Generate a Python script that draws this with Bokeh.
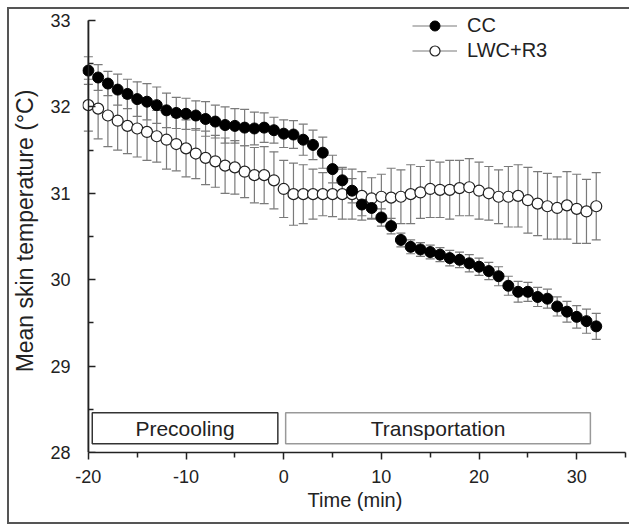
from bokeh.plotting import figure
from bokeh.layouts import column
from bokeh.models import (Range1d, LinearAxis, FixedTicker, Legend, LegendItem,
                          ColumnDataSource)
from bokeh.core.properties import value
from bokeh.embed import file_html
from bokeh.resources import INLINE

# ---------------- data ----------------
time_min = list(range(-20, 33))

cc_mean = [32.42, 32.34, 32.27, 32.20, 32.15, 32.09, 32.06, 32.02, 31.96, 31.93,
           31.92, 31.90, 31.86, 31.83, 31.79, 31.78, 31.76, 31.75, 31.76, 31.73,
           31.69, 31.68, 31.62, 31.56, 31.47, 31.28, 31.15, 31.03, 30.87, 30.83,
           30.72, 30.62, 30.46, 30.38, 30.35, 30.32, 30.29, 30.25, 30.23, 30.19,
           30.15, 30.10, 30.04, 29.93, 29.86, 29.86, 29.80, 29.78, 29.69, 29.63,
           29.57, 29.52, 29.46]
cc_sd = [0.16, 0.15, 0.14, 0.18, 0.17, 0.20, 0.21, 0.21, 0.20, 0.18,
         0.18, 0.17, 0.20, 0.19, 0.21, 0.20, 0.21, 0.19, 0.17, 0.15,
         0.16, 0.16, 0.18, 0.17, 0.18, 0.16, 0.15, 0.14, 0.13, 0.12,
         0.10, 0.09, 0.08, 0.08, 0.08, 0.08, 0.08, 0.09, 0.09, 0.10,
         0.10, 0.10, 0.11, 0.11, 0.12, 0.11, 0.11, 0.11, 0.11, 0.12,
         0.13, 0.14, 0.15]

lwc_mean = [32.02, 31.98, 31.90, 31.84, 31.78, 31.75, 31.71, 31.66, 31.62, 31.57,
            31.52, 31.46, 31.41, 31.37, 31.32, 31.30, 31.25, 31.21, 31.21, 31.15,
            31.05, 30.99, 30.99, 30.99, 30.99, 30.99, 30.99, 30.99, 30.97, 30.94,
            30.96, 30.95, 30.96, 30.99, 31.01, 31.05, 31.04, 31.04, 31.06, 31.07,
            31.03, 31.00, 30.96, 30.96, 30.97, 30.92, 30.88, 30.85, 30.83, 30.86,
            30.82, 30.79, 30.85]
lwc_sd = [0.30, 0.35, 0.36, 0.34, 0.32, 0.33, 0.33, 0.30, 0.34, 0.31,
          0.33, 0.29, 0.31, 0.30, 0.32, 0.31, 0.30, 0.32, 0.33, 0.33,
          0.33, 0.36, 0.34, 0.29, 0.25, 0.26, 0.29, 0.29, 0.28, 0.24,
          0.26, 0.34, 0.31, 0.34, 0.30, 0.33, 0.32, 0.34, 0.32, 0.33,
          0.33, 0.31, 0.31, 0.35, 0.36, 0.38, 0.37, 0.38, 0.36, 0.39,
          0.40, 0.37, 0.39]

series_names = ["CC", "LWC+R3"]
phase_labels = ["Precooling", "Transportation"]
phase_start = [-19.6, 0.2]
phase_end = [-0.6, 31.4]

x_ticks = [-20, -10, 0, 10, 20, 30]
x_minor = [-15, -5, 5, 15, 25, 35]
y_ticks = [28, 29, 30, 31, 32, 33]
y_minor = [28.5, 29.5, 30.5, 31.5, 32.5]

FONT = "Liberation Sans"
INK = "#222222"
W, H = 620, 513

p = figure(width=W, height=H, output_backend="svg", toolbar_location=None,
           x_range=Range1d(-20.6, 35.2), y_range=Range1d(28, 33.127),
           x_axis_location=None, y_axis_location=None,
           min_border_left=73, min_border_right=2, min_border_top=0,
           min_border_bottom=70)
p.outline_line_color = None
for g in p.grid:
    g.visible = False
p.background_fill_color = "white"
p.border_fill_color = "white"


def style_axis(ax):
    ax.axis_line_color = INK
    ax.axis_line_width = 1.5
    ax.major_tick_line_color = INK
    ax.major_tick_line_width = 1.5
    ax.minor_tick_line_color = INK
    ax.minor_tick_line_width = 1.5
    ax.major_tick_out = 7
    ax.major_tick_in = 0
    ax.minor_tick_out = 5
    ax.minor_tick_in = 0
    ax.major_label_text_font = FONT
    ax.major_label_text_font_size = "18px"
    ax.major_label_text_color = INK
    ax.axis_label_text_font = FONT
    ax.axis_label_text_font_size = "20px"
    ax.axis_label_text_font_style = "normal"
    ax.axis_label_text_color = INK


# x axis
xaxis = LinearAxis(ticker=FixedTicker(ticks=x_ticks, minor_ticks=x_minor),
                   bounds=(-20, 35), axis_label="Time (min)")
style_axis(xaxis)
xaxis.major_label_overrides = {t: str(t) for t in x_ticks}
xaxis.major_label_standoff = 10
xaxis.axis_label_standoff = 3
p.add_layout(xaxis, "below")

# y tick labels + title
ylab = LinearAxis(ticker=FixedTicker(ticks=y_ticks, minor_ticks=[]),
                  axis_label="Mean skin temperature (°C)")
style_axis(ylab)
ylab.axis_line_alpha = 0
ylab.major_tick_line_alpha = 0
ylab.minor_tick_line_alpha = 0
ylab.major_tick_out = 0
ylab.minor_tick_out = 0
ylab.major_label_standoff = 12
ylab.axis_label_standoff = 9
ylab.axis_label_text_font_size = "23px"
p.add_layout(ylab, "left")

# y axis line and outward ticks, fixed at the first time tick
x_axis_pos = x_ticks[0]
yline = LinearAxis(ticker=FixedTicker(ticks=y_ticks, minor_ticks=y_minor),
                   fixed_location=x_axis_pos, bounds=(y_ticks[0], y_ticks[-1]))
style_axis(yline)
yline.major_label_text_font_size = "1px"
yline.major_label_text_alpha = 0
p.add_layout(yline, "right")
p.line(x=[x_axis_pos, x_axis_pos], y=[y_ticks[0], y_ticks[-1]],
       line_color=INK, line_width=1.5)

# ---------------- phase boxes ----------------
box_bottom, box_top = 28.1, 28.46
pb = ColumnDataSource(dict(left=phase_start, right=phase_end,
                           bottom=[box_bottom] * 2, top=[box_top] * 2,
                           x=[(a + b) / 2 for a, b in zip(phase_start, phase_end)],
                           y=[(box_bottom + box_top) / 2] * 2,
                           label=phase_labels,
                           lc=["#333333", "#999999"]))
p.quad(left="left", right="right", bottom="bottom", top="top", source=pb,
       fill_color="white", line_color="lc", line_width=1.5)
p.text(x="x", y="y", text="label", source=pb, text_align="center",
       text_baseline="middle", text_font=value(FONT), text_font_size="21px",
       text_color=INK)

# ---------------- error bars + markers ----------------
ERR = "#7a7a7a"


def draw_errors(mean, sd):
    lo = [m - s for m, s in zip(mean, sd)]
    hi = [m + s for m, s in zip(mean, sd)]
    seg = p.segment(x0=time_min, y0=lo, x1=time_min, y1=hi,
                    line_color=ERR, line_width=1.2)
    p.scatter(x=time_min, y=hi, marker="dash", size=9, line_color=ERR, line_width=1.2)
    p.scatter(x=time_min, y=lo, marker="dash", size=9, line_color=ERR, line_width=1.2)
    return seg


seg_lwc = draw_errors(lwc_mean, lwc_sd)
seg_cc = draw_errors(cc_mean, cc_sd)
pts_lwc = p.scatter(x=time_min, y=lwc_mean, size=11, fill_color="white",
                    line_color=INK, line_width=1.2)
pts_cc = p.scatter(x=time_min, y=cc_mean, size=11, fill_color="black",
                   line_color="black", line_width=1)

# ---------------- legend ----------------
legend = Legend(items=[LegendItem(label=series_names[0], renderers=[seg_cc, pts_cc]),
                       LegendItem(label=series_names[1], renderers=[seg_lwc, pts_lwc])],
                location=(330, 389), padding=0, margin=0, spacing=0,
                glyph_width=45, glyph_height=25, label_height=25,
                label_standoff=10, border_line_color=None,
                background_fill_alpha=0,
                label_text_font=FONT, label_text_font_size="20px",
                label_text_color=INK)
p.add_layout(legend)

page = column(p, styles={"margin-left": "7px", "margin-top": "7px",
                         "border-left": "2px solid #555555",
                         "border-top": "2px solid #555555",
                         "border-bottom": "2px solid #555555"})

open("out.html", "w").write(file_html(page, INLINE))
